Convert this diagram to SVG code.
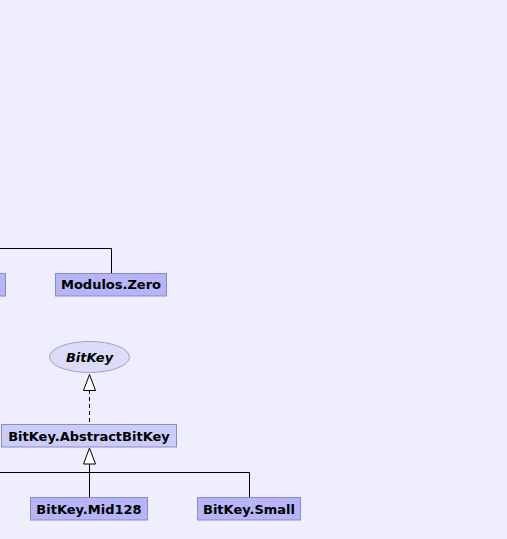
<svg xmlns="http://www.w3.org/2000/svg" width="507" height="539" viewBox="0 0 507 539">
<defs>
<style>
.bg{fill:#eeeefc}
.cls{fill:#b5b5f7;stroke:#8a8ac4;stroke-width:1}
.abs{fill:#ccccf8;stroke:#8a8ac4;stroke-width:1}
.ifc{fill:#dcdcf8;stroke:#a0a0c8;stroke-width:1}
.lbl{font-family:"DejaVu Sans",sans-serif;font-weight:bold;font-size:13px;fill:#000;text-anchor:middle}
.it{font-style:italic}
.edge{fill:none;stroke:#000;stroke-width:1}
.dash{stroke-dasharray:4,3}
.tri{fill:#fff;stroke:#000;stroke-width:1}
</style>
</defs>
<rect class="bg" x="0" y="0" width="507" height="539"/>
<g id="connectors">
<polyline class="edge" points="0,248.5 111.5,248.5 111.5,273"/>
<line class="edge dash" x1="89.5" y1="390" x2="89.5" y2="424"/>
<polygon class="tri" points="89.5,374.5 83.5,390.5 95.5,390.5"/>
<polyline class="edge" points="0,472.5 249.5,472.5 249.5,497"/>
<line class="edge" x1="89.5" y1="464" x2="89.5" y2="497"/>
<polygon class="tri" points="89.5,448 83.5,464 95.5,464"/>
</g>
<g id="node-left-partial">
<rect class="cls" x="-10" y="273.5" width="15.5" height="22.5"/>
</g>
<g id="node-modulos-zero">
<rect class="cls" x="55.5" y="273.5" width="111" height="22.5"/>
<text class="lbl" x="111" y="288.5">Modulos.Zero</text>
</g>
<g id="node-bitkey">
<ellipse class="ifc" cx="89.5" cy="357" rx="40" ry="15.5"/>
<text class="lbl it" x="89.5" y="362">BitKey</text>
</g>
<g id="node-abstractbitkey">
<rect class="abs" x="1.5" y="424.5" width="175" height="22.5"/>
<text class="lbl" x="89" y="441">BitKey.AbstractBitKey</text>
</g>
<g id="node-mid128">
<rect class="cls" x="30.5" y="497.5" width="117" height="22.5"/>
<text class="lbl" x="89" y="513.5">BitKey.Mid128</text>
</g>
<g id="node-small">
<rect class="cls" x="197.5" y="497.5" width="103" height="22.5"/>
<text class="lbl" x="249" y="513.5">BitKey.Small</text>
</g>
</svg>
